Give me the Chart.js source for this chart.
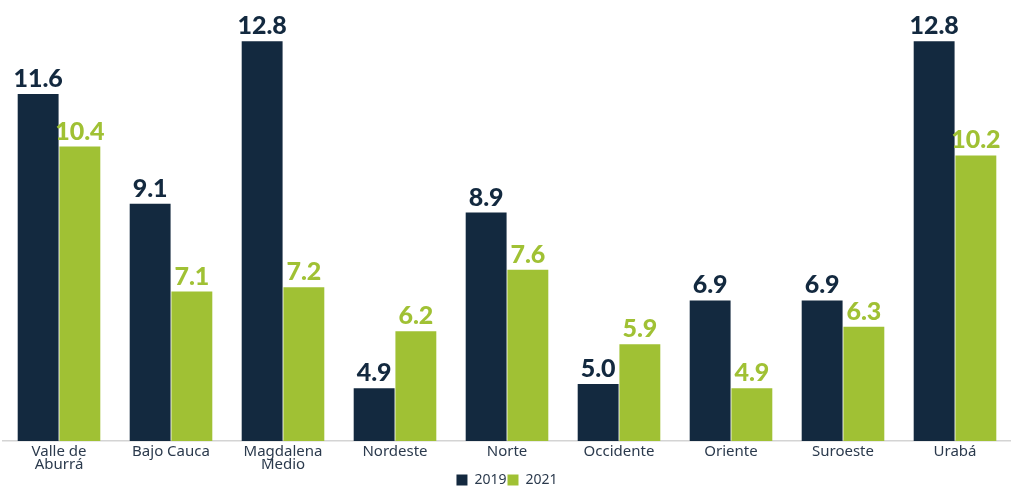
<!DOCTYPE html>
<html>
<head>
<meta charset="utf-8">
<script src="https://cdn.jsdelivr.net/npm/chart.js@4"></script>
<style>
  html, body { margin: 0; padding: 0; background: #fff; }
  #wrap { width: 1011px; height: 487px; }
</style>
</head>
<body>
<div id="wrap"><canvas id="chart"></canvas></div>
<script>
const categories = [
  ['Valle de', 'Aburrá'],
  'Bajo Cauca',
  ['Magdalena', 'Medio'],
  'Nordeste',
  'Norte',
  'Occidente',
  'Oriente',
  'Suroeste',
  'Urabá'
];

const values2019 = [11.6, 9.1, 12.8, 4.9, 8.9, 5.0, 6.9, 6.9, 12.8];
const values2021 = [10.4, 7.1, 7.2, 6.2, 7.6, 5.9, 4.9, 6.3, 10.2];

const navy = '#13293f';
const green = '#a0c134';
const textColor = '#2b3a4d';

// draws the value above each bar
const barLabels = {
  id: 'barLabels',
  afterDatasetsDraw(chart) {
    const ctx = chart.ctx;
    ctx.save();
    ctx.font = "900 25px Lato, 'DejaVu Sans', sans-serif";
    ctx.textAlign = 'center';
    ctx.textBaseline = 'alphabetic';
    chart.data.datasets.forEach((ds, i) => {
      const meta = chart.getDatasetMeta(i);
      ctx.fillStyle = ds.backgroundColor;
      meta.data.forEach((bar, j) => {
        ctx.fillText(ds.data[j].toFixed(1), bar.x, bar.y - 7);
      });
    });
    ctx.restore();
  }
};

const config = {
  type: 'bar',
  data: {
    labels: categories,
    datasets: [{
      label: '2019',
      backgroundColor: navy,
      data: values2019
    }, {
      label: '2021',
      backgroundColor: green,
      data: values2021
    }]
  },
  options: {
    responsive: true,
    maintainAspectRatio: false,
    animation: false,
    layout: {
      padding: { top: 6, left: 3, right: 0, bottom: -10 }
    },
    datasets: {
      bar: {
        categoryPercentage: 0.745,
        barPercentage: 0.98
      }
    },
    plugins: {
      legend: {
        position: 'bottom',
        labels: {
          boxWidth: 11,
          boxHeight: 11,
          padding: 1,
          color: textColor,
          font: { size: 14 }
        }
      },
      tooltip: { enabled: false }
    },
    scales: {
      x: {
        grid: { display: false, drawTicks: false },
        border: { color: '#d4d4d4', width: 1.5 },
        afterFit(scale) { scale.height = 31; },
        ticks: {
          color: textColor,
          padding: 5,
          maxRotation: 0,
          font: { family: "'Noto Sans', sans-serif", size: 15, lineHeight: 0.83 }
        }
      },
      y: {
        display: false,
        min: 3.7,
        max: 13.6
      }
    }
  },
  plugins: [barLabels]
};

Chart.defaults.font.family = "'Noto Sans', sans-serif";

const chart = new Chart(document.getElementById('chart'), config);
</script>
</body>
</html>
